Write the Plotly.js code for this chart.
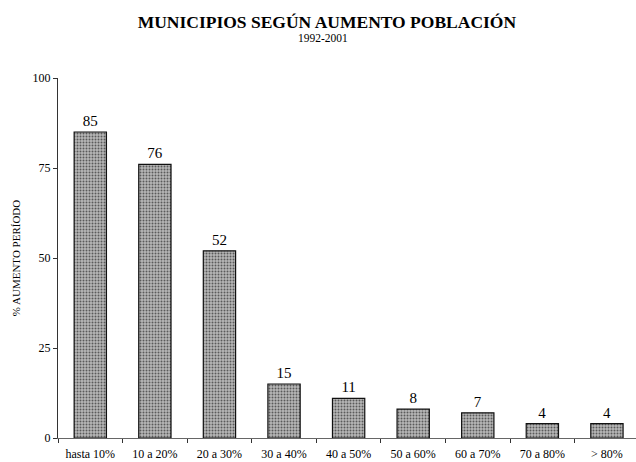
<!DOCTYPE html>
<html>
<head>
<meta charset="utf-8">
<script src="https://cdn.plot.ly/plotly-3.0.1.min.js"></script>
<style>html,body{margin:0;padding:0;background:#fff;}#chart{width:636px;height:462px;}</style>
</head>
<body>
<div id="chart"></div>
<script>
const categories = ["hasta 10%", "10 a 20%", "20 a 30%", "30 a 40%", "40 a 50%", "50 a 60%", "60 a 70%", "70 a 80%", "> 80%"];
const values = [85, 76, 52, 15, 11, 8, 7, 4, 4];
const yTicks = [0, 25, 50, 75, 100];
const titleText = "MUNICIPIOS SEGÚN AUMENTO POBLACIÓN";
const subtitleText = "1992-2001";
const yTitleText = "% AUMENTO PERÍODO";

const font = "Times New Roman, Liberation Serif, serif";

const trace = {
  type: "bar",
  x: categories,
  y: values,
  text: values.map(String),
  textposition: "outside",
  textfont: {family: font, size: 15, color: "#000"},
  cliponaxis: false,
  marker: {
    color: "#a8a8a8",
    line: {color: "#111", width: 1.2},
    pattern: {shape: ".", fgcolor: "#5a5a5a", bgcolor: "#b8b8b8", size: 3, solidity: 0.35, fillmode: "replace"}
  },
  hoverinfo: "none"
};

const layout = {
  width: 636, height: 462,
  margin: {l: 58, r: 0, t: 78, b: 24},
  paper_bgcolor: "#fff", plot_bgcolor: "#fff",
  bargap: 0.5,
  showlegend: false,
  font: {family: font, color: "#000"},
  title: {
    text: "<b>" + titleText + "</b>",
    font: {family: font, size: 17.5, color: "#000"},
    x: 0.514, xanchor: "center", y: 1 - 22 / 462, yanchor: "middle"
  },
  annotations: [{
    text: subtitleText, xref: "paper", yref: "paper",
    x: 0.458, y: (438 - 38) / 360, xanchor: "center", yanchor: "middle",
    showarrow: false, font: {family: font, size: 11.5, color: "#000"}
  }],
  xaxis: {
    type: "category",
    range: [-0.5, 8.45],
    tickson: "boundaries",
    ticks: "outside", ticklen: 4, tickcolor: "#333", tickwidth: 1,
    showline: true, linecolor: "#666", linewidth: 1.2,
    showgrid: false, zeroline: false,
    tickfont: {family: font, size: 12, color: "#000"},
    ticklabelstandoff: 4,
    fixedrange: true
  },
  yaxis: {
    range: [0, 100],
    tickmode: "array", tickvals: yTicks, ticktext: yTicks.map(String),
    ticks: "outside", ticklen: 4, tickcolor: "#333", tickwidth: 1,
    showline: true, linecolor: "#333", linewidth: 1,
    showgrid: false, zeroline: false,
    tickfont: {family: font, size: 12, color: "#000"},
    title: {text: yTitleText, font: {family: font, size: 11, color: "#000"}, standoff: 9},
    fixedrange: true
  }
};

Plotly.newPlot("chart", [trace], layout, {displayModeBar: false, staticPlot: true});
</script>
</body>
</html>
